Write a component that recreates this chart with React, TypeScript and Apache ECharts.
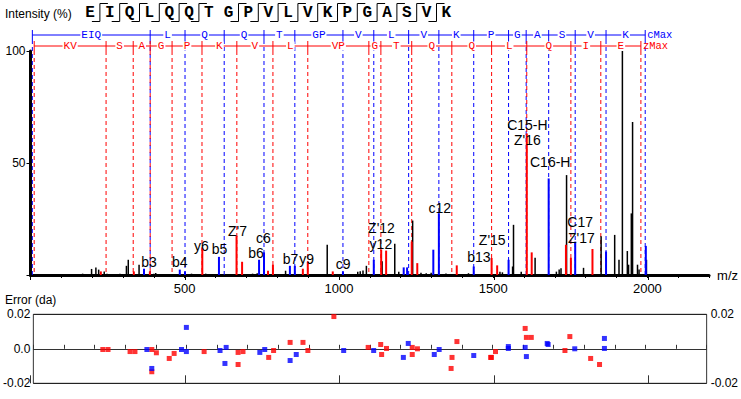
import React, { useEffect, useRef } from 'react';
import * as echarts from 'echarts';

// ---------------- data ----------------
const sequence = ['E','I','Q','L','Q','Q','T','G','P','V','L','V','K','P','G','A','S','V','K'];
// boundaries (before residue index) that carry a cleavage mark
const cleavageMarks = [1,2,3,4,5,6,8,9,10,11,12,13,14,15,16,17,18];

const cLadderMz = [6, 388, 501, 628, 757, 857, 1013, 1113, 1226, 1324, 1437, 1550, 1607, 1680, 1766, 1866, 1993];
const cLadderLabels = ['EIQ','L','Q','Q','T','GP','V','L','V','K','P','G','A','S','V','K'];
const zLadderMz = [12, 245, 333, 388, 459, 556, 669, 786, 899, 1097, 1136, 1236, 1366, 1495, 1609, 1752, 1849, 1979];
const zLadderLabels = ['KV','S','A','G','P','K','V','L','VP','G','T','Q','Q','L','Q','I','E'];

const blackPeaks: [number, number][] = [
  [169, 0.6], [198, 2.7], [212, 3.4], [221, 2.4], [239, 1.6], [248, 0.6], [270, 0.5], [290, 0.6],
  [311, 4.1], [317, 6.8], [352, 4.6], [400, 0.6], [406, 0.9], [522, 0.6], [568, 0.6], [720, 0.6],
  [735, 0.8], [760, 0.5], [827, 1.9], [962, 13.5], [1061, 1.5], [1069, 1.7], [1078, 2.0], [1089, 4.1],
  [1140, 6.1], [1181, 13.9], [1194, 1.5], [1239, 24.3], [1266, 1.0], [1283, 0.8], [1299, 1.0],
  [1347, 0.7], [1420, 0.8], [1522, 1.5], [1530, 1.2], [1563, 3.8], [1566, 22.4], [1591, 1.5],
  [1636, 7.7], [1705, 1.5], [1714, 2.5], [1720, 3.0], [1738, 44.6], [1793, 3.2], [1850, 17.3],
  [1894, 17.9], [1908, 6.8], [1919, 100], [1935, 10.7], [1939, 4.6], [1948, 27.5], [1952, 68.3],
  [1968, 4.6], [1973, 2.4], [1997, 6.8]
];
const bluePeaks: [number, number][] = [
  [368, 2.8], [484, 2.4], [501, 1.6], [611, 8.1], [741, 6.8], [757, 10.1], [841, 4.1], [857, 4.1],
  [1013, 1.6], [1113, 6.8], [1210, 3.4], [1221, 3.4], [1306, 11.3], [1324, 27.6], [1437, 3.8],
  [1550, 6.8], [1680, 43.1], [1766, 14.9], [1866, 10.5], [1995, 13.0]
];
const redPeaks: [number, number][] = [
  [228, 1.6], [335, 1.6], [387, 1.6], [557, 12.0], [668, 17.5], [686, 5.9], [770, 1.9], [786, 4.6],
  [883, 2.8], [899, 5.9], [980, 1.6], [1137, 11.3], [1153, 10.9], [1236, 14.9], [1254, 5.3],
  [1382, 4.3], [1495, 7.6], [1513, 4.3], [1609, 63.2], [1625, 10.1], [1736, 13.5], [1752, 7.7],
  [1822, 11.6]
];
// [text, m/z of label centre, intensity at label baseline]
const peakLabels: [string, number, number][] = [
  ['b3', 384, 3.7], ['b4', 484, 3.6], ['y6', 554, 10.5], ['b5', 613, 9.3], ["Z'7", 671, 17.5],
  ['b6', 731, 7.6], ['c6', 755, 14.2], ['b7', 843, 5.0], ['y9', 895, 5.0], ['c9', 1014, 2.8],
  ["Z'12", 1138, 18.7], ['y12', 1136, 11.6], ['c12', 1327, 27.6], ['b13', 1454, 5.6],
  ["Z'15", 1497, 13.5], ['C15-H', 1611, 64.9], ["Z'16", 1611, 58.0], ['C16-H', 1685, 48.3],
  ['C17', 1782, 21.4], ["Z'17", 1786, 14.5]
];

const errorRed: [number, number][] = [
  [227, -0.0004], [244, -0.0004], [316, -0.0016], [332, -0.0016], [387, -0.0004], [387, -0.0133],
  [402, -0.0023], [444, -0.0056], [460, -0.0027], [558, -0.0016], [669, -0.0021], [669, -0.0091],
  [685, -0.0016], [769, -0.005], [785, -0.001], [839, 0.0037], [881, 0.0037], [897, -0.001],
  [982, 0.0187], [1094, 0.0008], [1135, 0.0025], [1138, -0.0033], [1154, 0.0002], [1238, 0.0008],
  [1238, -0.0033], [1255, 0], [1365, -0.0114], [1368, -0.005], [1384, 0.0042], [1494, -0.005],
  [1497, -0.005], [1510, -0.0016], [1607, 0.0118], [1611, 0.0066], [1627, 0.0066], [1737, -0.001],
  [1753, 0.0071], [1821, -0.0056], [1850, -0.0091]
];
const errorBlue: [number, number][] = [
  [371, -0.0004], [387, -0.0114], [484, -0.0004], [500, 0.0124], [500, -0.0016], [610, -0.001],
  [630, 0.0008], [626, -0.0085], [740, -0.0021], [756, -0.0004], [839, -0.0068], [859, -0.0033],
  [1014, -0.001], [1112, -0.001], [1209, -0.005], [1225, 0.0031], [1310, -0.0033], [1326, -0.0004],
  [1439, -0.0039], [1552, 0.0013], [1552, 0.0002], [1607, 0.0008], [1611, -0.0045], [1679, 0.0031],
  [1682, 0.0025], [1769, 0], [1866, 0.006], [1866, 0.0002]
];

// ---------------- styles ----------------
const SANS = '"Liberation Sans", Arial, sans-serif';
const MONO = '"Liberation Mono", "Courier New", monospace';
const RED = '#ff0000';
const BLUE = '#0000ff';

function ladderSeries(mzs: number[], labels: string[], endLabel: string, color: string, rowOffset: number) {
  return {
    type: 'custom',
    xAxisIndex: 0,
    yAxisIndex: 0,
    clip: false,
    silent: true,
    z: 2,
    data: mzs.map((m) => [m, 0]),
    renderItem: (params: any, api: any) => {
      const i = params.dataIndex;
      const p = api.coord([mzs[i], 0]);
      const rowY = params.coordSys.y - rowOffset;
      const children: any[] = [
        { type: 'line', shape: { x1: p[0], y1: rowY - 5, x2: p[0], y2: rowY + 5 }, style: { stroke: color, lineWidth: 1 } },
        { type: 'line', shape: { x1: p[0], y1: rowY + 5, x2: p[0], y2: p[1] }, style: { stroke: color, lineWidth: 1, lineDash: [4, 3] } },
      ];
      if (i < mzs.length - 1) {
        const q = api.coord([mzs[i + 1], 0]);
        children.push({ type: 'line', shape: { x1: p[0], y1: rowY, x2: q[0], y2: rowY }, style: { stroke: color, lineWidth: 1 } });
        children.push({
          type: 'text', x: (p[0] + q[0]) / 2, y: rowY,
          style: { text: labels[i], fill: color, font: '11px ' + MONO, lineHeight: 9, align: 'center', verticalAlign: 'middle', backgroundColor: '#fff', padding: [0, 1] },
        });
      } else {
        children.push({
          type: 'text', x: p[0] + 2, y: rowY,
          style: { text: endLabel, fill: color, font: '10.5px ' + MONO, lineHeight: 9, align: 'left', verticalAlign: 'middle' },
        });
      }
      return { type: 'group', children };
    },
  };
}

function peakSeries(data: [number, number][], color: string, width: number, z: number) {
  return {
    type: 'custom',
    xAxisIndex: 0,
    yAxisIndex: 0,
    silent: true,
    z,
    data,
    renderItem: (params: any, api: any) => {
      const p0 = api.coord([api.value(0), 0]);
      const p1 = api.coord([api.value(0), api.value(1)]);
      return { type: 'line', shape: { x1: p0[0], y1: p0[1], x2: p1[0], y2: p1[1] }, style: { stroke: color, lineWidth: width } };
    },
  };
}

export default function App() {
  const ref = useRef<HTMLDivElement>(null);
  useEffect(() => {
    if (!ref.current) return;
    const chart = echarts.init(ref.current, undefined, { renderer: 'svg' });

    const seqX0 = 90;
    const seqStep = 19.8;
    const graphic: any[] = [
      { type: 'text', x: 5, y: 14, style: { text: 'Intensity (%)', font: '12px ' + SANS, fill: '#000', verticalAlign: 'middle' } },
      { type: 'text', x: 5, y: 300, style: { text: 'Error (da)', font: '12px ' + SANS, lineHeight: 12, fill: '#000', verticalAlign: 'middle' } },
    ];
    sequence.forEach((aa, i) => {
      graphic.push({
        type: 'text', x: seqX0 + i * seqStep, y: 13,
        style: { text: aa, font: 'bold 16px ' + MONO, fill: '#000', align: 'center', verticalAlign: 'middle' },
      });
    });
    cleavageMarks.forEach((b) => {
      const xb = seqX0 + (b - 0.5) * seqStep;
      graphic.push({
        type: 'polyline',
        shape: { points: [[xb - 8, 21.5], [xb, 21.5], [xb, 3.5], [xb + 8, 3.5]] },
        style: { stroke: '#000', lineWidth: 1, fill: null },
      });
    });

    const option: any = {
      animation: false,
      textStyle: { fontFamily: SANS },
      graphic,
      grid: [
        { left: 30.5, top: 51, width: 679.5, height: 224 },
        { left: 30.5, top: 314.3, width: 679.5, height: 69, show: true, borderColor: '#333', borderWidth: 1 },
        { left: 30.5, top: 51, width: 617.73, height: 224 },
        { left: 30.5, top: 314.3, width: 617.73, height: 69 },
      ],
      xAxis: [
        {
          gridIndex: 0, type: 'value', min: 0, max: 2200, interval: 100,
          axisLine: { lineStyle: { color: '#000', width: 3 } },
          axisTick: { length: 3, lineStyle: { color: '#000', width: 1 } },
          axisLabel: { formatter: (v: number) => (v > 0 && v % 500 === 0 ? String(v) : ''), fontSize: 13, color: '#000', margin: 7 },
          splitLine: { show: false },
          name: 'm/z', nameLocation: 'end', nameGap: 8,
          nameTextStyle: { fontSize: 13, color: '#000', verticalAlign: 'middle' },
        },
        {
          gridIndex: 1, type: 'value', position: 'top', min: 0, max: 2200, interval: 100,
          axisLine: { lineStyle: { color: '#333', width: 1 } },
          axisTick: { length: 4, lineStyle: { color: '#333', width: 1 } },
          axisLabel: { show: false },
          splitLine: { show: false },
        },
        {
          gridIndex: 2, type: 'value', min: 0, max: 2000, interval: 500,
          axisLine: { show: false },
          axisTick: { length: 5, lineStyle: { color: '#000', width: 1 } },
          axisLabel: { show: false },
          splitLine: { show: false },
        },
        {
          gridIndex: 3, type: 'value', position: 'top', min: 0, max: 2000, interval: 500,
          axisLine: { show: false },
          axisTick: { length: 8, lineStyle: { color: '#333', width: 1 } },
          axisLabel: { show: false },
          splitLine: { show: false },
        },
      ],
      yAxis: [
        {
          gridIndex: 0, type: 'value', min: 0, max: 100, interval: 50,
          axisLine: { show: true, lineStyle: { color: '#000', width: 3 } },
          axisTick: { show: true, length: 4, lineStyle: { color: '#000', width: 1 } },
          axisLabel: { formatter: (v: number) => (v === 0 ? '' : String(v)), fontSize: 12, color: '#000', margin: 5 },
          splitLine: { show: false },
        },
        {
          gridIndex: 1, type: 'value', min: -0.02, max: 0.02, interval: 0.02,
          axisLine: { show: false }, axisTick: { show: false },
          axisLabel: { formatter: (v: number) => (Math.abs(v) < 1e-9 ? '0.0' : v.toFixed(2)), fontSize: 12, lineHeight: 12, color: '#000', margin: 3 },
          splitLine: { show: true, lineStyle: { color: '#222', width: 1 } },
        },
        {
          gridIndex: 1, type: 'value', position: 'right', min: -0.02, max: 0.02, interval: 0.02,
          axisLine: { show: false }, axisTick: { show: false },
          axisLabel: { formatter: (v: number) => (Math.abs(v) < 1e-9 ? '' : v.toFixed(2)), fontSize: 12, lineHeight: 12, color: '#000', margin: 4 },
          splitLine: { show: false },
        },
        { gridIndex: 2, type: 'value', min: 0, max: 100, show: false },
        { gridIndex: 3, type: 'value', min: 0, max: 1, show: false },
      ],
      series: [
        ladderSeries(cLadderMz, cLadderLabels, 'cMax', BLUE, 16),
        ladderSeries(zLadderMz, zLadderLabels, 'zMax', RED, 5),
        peakSeries(blackPeaks, '#000', 1.5, 3),
        peakSeries(bluePeaks, BLUE, 2, 4),
        peakSeries(redPeaks, RED, 2, 4),
        {
          type: 'custom', xAxisIndex: 0, yAxisIndex: 0, silent: true, clip: false, z: 5,
          data: peakLabels.map((l) => [l[1], l[2]]),
          renderItem: (params: any, api: any) => {
            const p = api.coord([api.value(0), api.value(1)]);
            return {
              type: 'text', x: p[0], y: p[1] - 5,
              style: { text: peakLabels[params.dataIndex][0], fill: '#000', font: '14px ' + SANS, align: 'center', verticalAlign: 'middle' },
            };
          },
        },
        {
          type: 'scatter', xAxisIndex: 1, yAxisIndex: 1, symbol: 'rect', symbolSize: 5, silent: true,
          itemStyle: { color: RED }, data: errorRed, z: 5,
        },
        {
          type: 'scatter', xAxisIndex: 1, yAxisIndex: 1, symbol: 'rect', symbolSize: 5, silent: true,
          itemStyle: { color: BLUE }, data: errorBlue, z: 5,
        },
      ],
    };
    chart.setOption(option);
    return () => chart.dispose();
  }, []);
  return <div ref={ref} style={{ width: 741, height: 399, position: 'absolute', left: 0, top: 0 }} />;
}
